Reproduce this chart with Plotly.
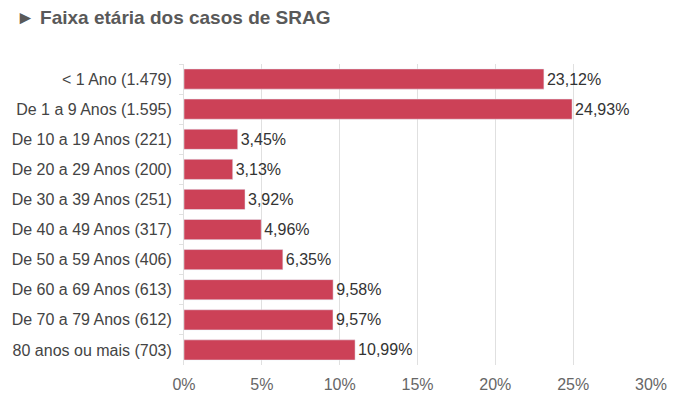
import plotly.graph_objects as go

# Faixa etária dos casos de SRAG
categorias = [
    "< 1 Ano (1.479)",
    "De 1 a 9 Anos (1.595)",
    "De 10 a 19 Anos (221)",
    "De 20 a 29 Anos (200)",
    "De 30 a 39 Anos (251)",
    "De 40 a 49 Anos (317)",
    "De 50 a 59 Anos (406)",
    "De 60 a 69 Anos (613)",
    "De 70 a 79 Anos (612)",
    "80 anos ou mais (703)",
]
percentuais = [23.12, 24.93, 3.45, 3.13, 3.92, 4.96, 6.35, 9.58, 9.57, 10.99]
xticks = [0, 5, 10, 15, 20, 25, 30]
xtick_labels = [f"{v}%" for v in xticks]

# the page body adds an 8px offset, so margins are shifted to compensate
fig = go.Figure()

fig.add_trace(
    go.Bar(
        x=percentuais,
        y=categorias,
        orientation="h",
        marker=dict(color="#CC4157"),
        width=0.67,
        texttemplate="%{x:.2f}%",
        textposition="outside",
        textfont=dict(size=16, color="#333333"),
        cliponaxis=False,
        hoverinfo="skip",
    )
)

fig.update_layout(
    width=683,
    height=408,
    margin=dict(l=176, r=40, t=56, b=51),
    paper_bgcolor="white",
    plot_bgcolor="white",
    separators=",.",
    showlegend=False,
    font=dict(family="Liberation Sans, Arial, sans-serif", size=16, color="#444444"),
    title=dict(
        text="<b>► Faixa etária dos casos de SRAG</b>",
        x=8 / 683,
        xanchor="left",
        y=1 - 9 / 408,
        yanchor="middle",
        font=dict(size=19, color="#595959"),
    ),
)

fig.update_xaxes(
    range=[0, 30],
    tickmode="array",
    tickvals=xticks,
    ticktext=xtick_labels,
    showgrid=True,
    gridcolor="#e0e0e0",
    gridwidth=1,
    zeroline=False,
    showline=False,
    tickfont=dict(size=16, color="#666666"),
    ticks="",
    ticklabelstandoff=8,
    automargin=False,
)

fig.update_yaxes(
    autorange="reversed",
    showline=True,
    linecolor="#e0e0e0",
    ticks="outside",
    tickson="boundaries",
    ticklen=4,
    tickcolor="#e0e0e0",
    tickfont=dict(size=16, color="#444444"),
    ticklabelstandoff=8,
    automargin=False,
)

fig.write_html("out.html")
